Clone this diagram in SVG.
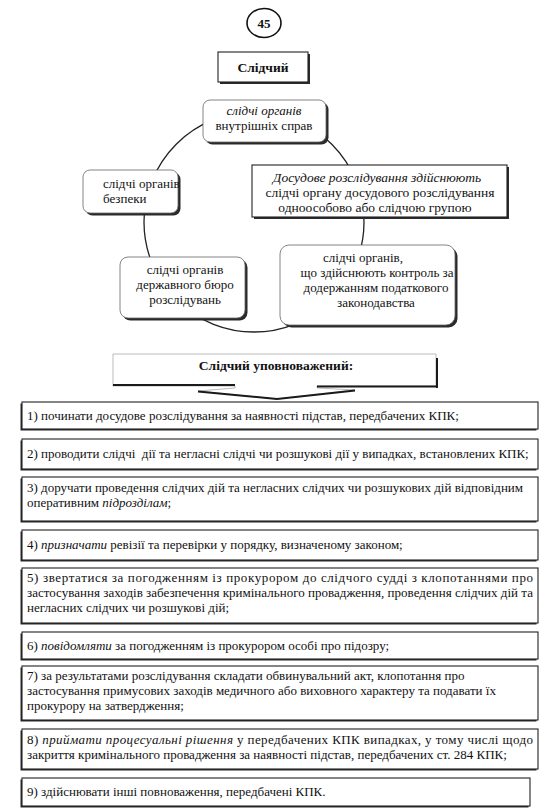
<svg xmlns="http://www.w3.org/2000/svg" width="545" height="812" viewBox="0 0 545 812">
<style>
text { font-family: "Liberation Serif", "DejaVu Serif", serif; fill: #111; font-size: 13px; }
.b { font-weight: bold; }
.i { font-style: italic; }
.c { text-anchor: middle; }
.box { fill: #fff; stroke: #222; stroke-width: 1.1; }
.sh { fill: #2a2a2a; }
.node { fill: #fff; stroke: #666; stroke-width: 0.8; }
.ring { fill: none; stroke: #222; stroke-width: 1.3; }
</style>
<rect width="545" height="812" fill="#fff"/>

<g id="page-number">
  <ellipse cx="264" cy="23" rx="17" ry="14.5" fill="#fff" stroke="#111" stroke-width="1.6"/>
  <text x="264" y="28" class="b c">45</text>
</g>

<g id="title">
  <rect x="220" y="54" width="90" height="30" class="sh"/>
  <rect x="218" y="52" width="90" height="30" class="box"/>
  <text x="263" y="72" class="b c" style="font-size:13.5px">Слідчий</text>
</g>

<g id="connectors">
  <circle cx="254" cy="222" r="110" class="ring"/>
</g>

<g id="n-internal">
  <rect x="205.5" y="102.5" width="123" height="42" rx="7" class="sh"/>
  <rect x="203" y="100" width="123" height="42" rx="7" class="node"/>
  <text x="264" y="115" class="c i">слідчі органів</text>
  <text x="264" y="130" class="c">внутрішніх справ</text>
</g>

<g id="n-security">
  <rect x="85.5" y="172.5" width="95" height="43" rx="7" class="sh"/>
  <rect x="83" y="170" width="95" height="43" rx="7" class="node"/>
  <text x="103" y="188">слідчі органів</text>
  <text x="103" y="203">безпеки</text>
</g>

<g id="n-pretrial">
  <rect x="254" y="167" width="255" height="52" class="sh"/>
  <rect x="252" y="165" width="255" height="52" class="box"/>
  <text x="377" y="182" class="c i" style="font-size:13.5px">Досудове розслідування здійснюють</text>
  <text x="380" y="197" class="c" style="font-size:13.5px">слідчі органу досудового розслідування</text>
  <text x="375" y="212" class="c" style="font-size:13.5px">одноособово або слідчою групою</text>
</g>

<g id="n-sbi">
  <rect x="122.5" y="259.5" width="125" height="61" rx="8" class="sh"/>
  <rect x="120" y="257" width="125" height="61" rx="8" class="node"/>
  <text x="185" y="274" class="c">слідчі органів</text>
  <text x="185" y="289" class="c">державного бюро</text>
  <text x="185" y="304" class="c">розслідувань</text>
</g>

<g id="n-tax">
  <rect x="282.5" y="247.5" width="175" height="80" rx="9" class="sh"/>
  <rect x="280" y="245" width="175" height="80" rx="9" class="node"/>
  <text x="363" y="262" class="c">слідчі органів,</text>
  <text x="377" y="277" class="c">що здійснюють контроль за</text>
  <text x="376" y="292" class="c">додержанням податкового</text>
  <text x="376" y="307" class="c">законодавства</text>
</g>

<g id="powers-header">
  <path d="M113,354 H436 V386 H317 V388 L355,390 L277,399 L198,391 L235,388 V386 H113 Z" fill="#fff" stroke="#aaa" stroke-width="0.8"/>
  <path d="M113,385 H235 M317,386.5 H437 M437,358 V388 M198,391.5 L277,399 L355,390.5" fill="none" stroke="#1a1a1a" stroke-width="2"/>
  <text x="276" y="370" class="b c" style="font-size:13.5px">Слідчий уповноважений:</text>
</g>

<g id="item1">
  <rect x="20.5" y="403.5" width="516" height="27" class="sh"/>
  <rect x="22" y="402" width="516" height="27" class="box"/>
  <text x="27" y="420">1) починати досудове розслідування за наявності підстав, передбачених КПК;</text>
</g>

<g id="item2">
  <rect x="20.5" y="440.5" width="516" height="30" class="sh"/>
  <rect x="22" y="439" width="516" height="30" class="box"/>
  <text x="27" y="458" xml:space="preserve">2) проводити слідчі  дії та негласні слідчі чи розшукові дії у випадках, встановлених КПК;</text>
</g>

<g id="item3">
  <rect x="20.5" y="478.5" width="516" height="44" class="sh"/>
  <rect x="22" y="477" width="516" height="44" class="box"/>
  <text x="27" y="492">3) доручати проведення слідчих дій та негласних слідчих чи розшукових дій відповідним</text>
  <text x="27" y="507">оперативним <tspan class="i">підрозділам</tspan>;</text>
</g>

<g id="item4">
  <rect x="20.5" y="531.5" width="516" height="30" class="sh"/>
  <rect x="22" y="530" width="516" height="30" class="box"/>
  <text x="27" y="549">4) <tspan class="i">призначати</tspan> ревізії та перевірки у порядку, визначеному законом;</text>
</g>

<g id="item5">
  <rect x="20.5" y="569.5" width="516" height="55" class="sh"/>
  <rect x="22" y="568" width="516" height="55" class="box"/>
  <text x="27" y="582" textLength="506" lengthAdjust="spacing">5) звертатися за погодженням із прокурором до слідчого судді з клопотаннями про</text>
  <text x="27" y="597" textLength="506" lengthAdjust="spacing">застосування заходів забезпечення кримінального провадження, проведення слідчих дій та</text>
  <text x="27" y="612">негласних слідчих чи розшукові дій;</text>
</g>

<g id="item6">
  <rect x="20.5" y="633.5" width="516" height="27" class="sh"/>
  <rect x="22" y="632" width="516" height="27" class="box"/>
  <text x="27" y="650">6) <tspan class="i">повідомляти</tspan> за погодженням із прокурором особі про підозру;</text>
</g>

<g id="item7">
  <rect x="20.5" y="667.5" width="516" height="54" class="sh"/>
  <rect x="22" y="666" width="516" height="54" class="box"/>
  <text x="27" y="680">7) за результатами розслідування складати обвинувальний акт, клопотання про</text>
  <text x="27" y="695">застосування примусових заходів медичного або виховного характеру та подавати їх</text>
  <text x="27" y="710">прокурору на затвердження;</text>
</g>

<g id="item8">
  <rect x="20.5" y="730.5" width="516" height="40" class="sh"/>
  <rect x="22" y="729" width="516" height="40" class="box"/>
  <text x="27" y="744" textLength="506" lengthAdjust="spacing">8) <tspan class="i">приймати процесуальні рішення</tspan> у передбачених КПК випадках, у тому числі щодо</text>
  <text x="27" y="759">закриття кримінального провадження за наявності підстав, передбачених ст. 284 КПК;</text>
</g>

<g id="item9">
  <rect x="20.5" y="779.5" width="508" height="28" class="sh"/>
  <rect x="22" y="778" width="508" height="28" class="box"/>
  <text x="27" y="796">9) здійснювати інші повноваження, передбачені КПК.</text>
</g>
</svg>
